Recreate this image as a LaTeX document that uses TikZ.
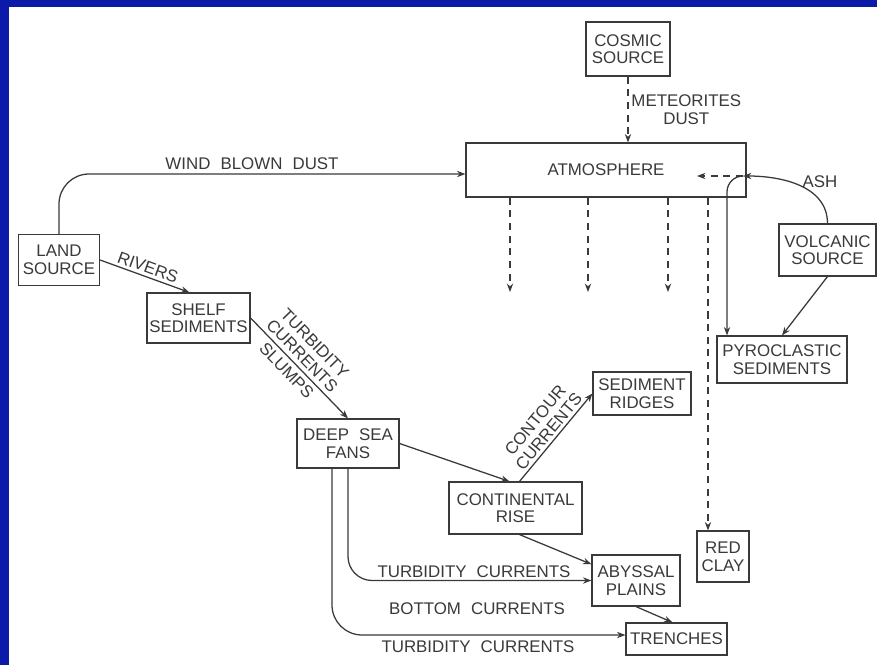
\documentclass[tikz,border=0pt]{standalone}
\usepackage{fontspec}
\setsansfont{Liberation Sans}
\usepackage{xcolor}
\usepackage{tikz}
\usetikzlibrary{positioning, arrows.meta, calc}
\definecolor{frame-blue}{HTML}{0B1AA8}
\definecolor{ink}{HTML}{3A3A3A}
\newcommand{\diagfont}{\sffamily\fontsize{12}{12.5}\selectfont\spaceskip=0.6em\relax}

\begin{document}
\begin{tikzpicture}[
    x=0.025cm, y=-0.025cm,
    box/.style 2 args={draw=ink, line width=0.8pt, align=center, inner sep=1pt,
                 minimum width=#1cm, minimum height=#2cm,
                 font=\diagfont, text=ink},
    lbl/.style={font=\diagfont, text=ink, align=center, inner sep=2pt},
    arr/.style={-{Stealth[length=6pt, width=4.5pt]}, line width=0.9pt, ink},
    dasharr/.style={arr, dash pattern=on 5pt off 4pt},
]
    \useasboundingbox (0,0) rectangle (877,665);
    \fill[frame-blue] (0,0) rectangle (877,665);
    \fill[white] (9,7) rectangle (877,665);

    % Sources
    \node[box={2.1}{1.35}]   (cosmic)   at (628,49)    {COSMIC\\SOURCE};
    \node[box={7.0}{1.35}]   (atmos)    at (606,170)   {ATMOSPHERE};
    \node[box={2.025}{1.275}] (land)    at (59,260)    {LAND\\SOURCE};
    \node[box={2.425}{1.3}]  (volcanic) at (827.5,250) {VOLCANIC\\SOURCE};

    % Sediments
    \node[box={2.575}{1.25}] (shelf)    at (198.5,318) {SHELF\\SEDIMENTS};
    \node[box={2.55}{1.225}] (fans)     at (348,443.5) {DEEP SEA\\FANS};
    \node[box={3.325}{1.3}]  (rise)     at (515.5,508) {CONTINENTAL\\RISE};
    \node[box={2.45}{1.075}] (ridges)   at (642,393.5) {SEDIMENT\\RIDGES};
    \node[box={2.2}{1.275}]  (plains)   at (636,580.5) {ABYSSAL\\PLAINS};
    \node[box={2.525}{0.8}]  (trenches) at (676.5,639) {TRENCHES};
    \node[box={1.3}{1.275}]  (clay)     at (723,556.5) {RED\\CLAY};
    \node[box={3.25}{1.175}] (pyro)     at (782,359.5) {PYROCLASTIC\\SEDIMENTS};

    % Cosmic and wind input
    \draw[dasharr] (cosmic.south) -- (cosmic.south |- atmos.north)
        node[midway, right, lbl] (meteorlbl) {METEORITES\\DUST};
    \draw[arr, rounded corners=0.75cm] (land.north) |- ([yshift=-0.1cm]atmos.west);
    \node[lbl] (windlbl) at (252,164) {WIND BLOWN DUST};

    % Land to deep sea
    \draw[arr] (land.east) -- ([xshift=-0.225cm]shelf.north)
        node[midway, above, sloped, lbl] (riverslbl) {RIVERS};
    \draw[arr] (shelf.east) -- (fans.north)
        node[pos=0.45, above=1pt, sloped, lbl] (turblbl) {TURBIDITY\\CURRENTS}
        node[pos=0.45, below=1pt, sloped, lbl] (slumpslbl) {SLUMPS};
    \draw[arr] (fans.east) -- ([xshift=-0.15cm]rise.north);
    \draw[arr] ([xshift=0.1cm]rise.north) -- (ridges.west)
        node[midway, above, sloped, lbl] (contourlbl) {CONTOUR\\CURRENTS};
    \draw[arr] ([xshift=0.1cm]rise.south) -- (plains.160);
    \draw[arr] (plains.south) -- ([xshift=-0.1cm]trenches.north);

    % Currents from the fans
    \draw[arr, rounded corners=0.6cm] (fans.south) |- (plains.west);
    \draw[arr, rounded corners=0.75cm] ([xshift=-0.4cm]fans.south)
        |- ([yshift=0.1cm]trenches.west);
    \node[lbl] (turb1lbl)   at (474,572) {TURBIDITY CURRENTS};
    \node[lbl] (bottomlbl)  at (477,609) {BOTTOM CURRENTS};
    \node[lbl] (turb2lbl)   at (478,647) {TURBIDITY CURRENTS};

    % Atmospheric fallout
    \foreach \x [count=\i] in {510, 588, 668} {
        \coordinate (fall\i) at (\x,292);
        \draw[dasharr] (atmos.south -| fall\i) -- (fall\i);
    }
    \draw[dasharr] ($(atmos.south -| clay.north)+(-15,0)$) -- ($(clay.north)+(-15,0)$);

    % Volcanic ash
    \coordinate (ashvent) at (743,176);
    \coordinate (ashin)   at (697,176);
    \draw[arr] (volcanic.north) to[out=90, in=0] (ashvent);
    \draw[dasharr] (ashvent) -- (ashin);
    \draw[arr, rounded corners=0.4cm] (ashvent) -| ($(pyro.north)+(-55,0)$);
    \node[lbl] (ashlbl) at (820,182) {ASH};
    \draw[arr] (volcanic.south) -- (pyro.north);
\end{tikzpicture}
\end{document}
